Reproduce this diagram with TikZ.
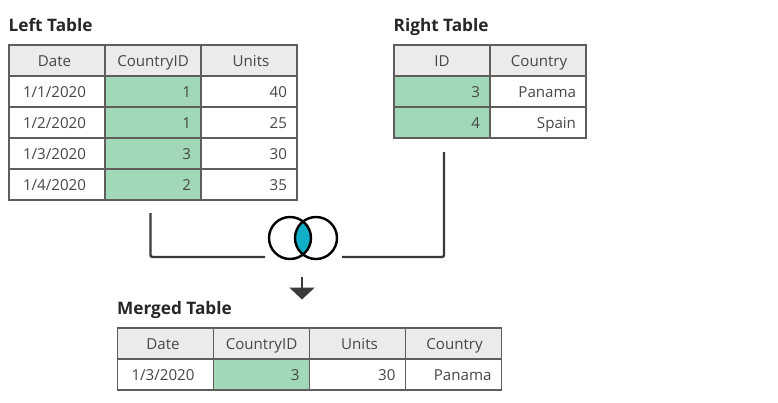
\documentclass[tikz,border=0pt]{standalone}
\usepackage{fontspec}
\setmainfont{Open Sans}
\usetikzlibrary{positioning,arrows.meta}
\definecolor{gridcol}{HTML}{5F5E5C}
\definecolor{headcol}{HTML}{EDEBE9}
\definecolor{keycol}{HTML}{A0D8B8}
\definecolor{textcol}{HTML}{484644}
\definecolor{linecol}{HTML}{3B3A39}
\definecolor{lenscol}{HTML}{0FAFC8}
\begin{document}
\begin{tikzpicture}[x=1pt,y=-1pt,node distance=0pt,
    cell/.style = {draw=gridcol, line width=1.4pt, minimum height=31pt, outer sep=0pt, inner sep=0pt, text=textcol, font=\fontsize{15.1}{17}\selectfont, text height=12pt, text depth=0pt},
    head/.style = {cell, fill=headcol, minimum width=96pt},
    date/.style = {cell, fill=white, minimum width=96pt},
    num/.style = {cell, fill=white, text width=76pt, minimum width=96pt, align=right},
    key/.style = {num, fill=keycol},
    nudge/.style = {execute at begin node={\kern #1}},
    title/.style = {anchor=base west, inner sep=0pt, text=black!85, font=\fontsize{17.2}{19}\selectfont\bfseries},
    link/.style = {draw=linecol, line width=2.4pt, rounded corners=2pt},
    ring/.style = {draw=black, circle, line width=2.4pt, minimum size=42pt, inner sep=0pt}]
        \useasboundingbox (0,0) rectangle (778,402);
        % left table
        \node[title] (lefttitle) at (8.5,31) {Left Table};
        \node[head,nudge=-5pt] (l11) at (57,60.5) {Date};
        \node[head] (l12) [right=of l11] {CountryID};
        \node[head,nudge=4pt] (l13) [right=of l12] {Units};
        \node[date,nudge=-5pt] (l21) [below=of l11] {1/1/2020};
        \node[key] (l22) [right=of l21] {1};
        \node[num] (l23) [right=of l22] {40};
        \node[date,nudge=-5pt] (l31) [below=of l21] {1/2/2020};
        \node[key] (l32) [right=of l31] {1};
        \node[num] (l33) [right=of l32] {25};
        \node[date,nudge=-5pt] (l41) [below=of l31] {1/3/2020};
        \node[key] (l42) [right=of l41] {3};
        \node[num] (l43) [right=of l42] {30};
        \node[date,nudge=-5pt] (l51) [below=of l41] {1/4/2020};
        \node[key] (l52) [right=of l51] {2};
        \node[num] (l53) [right=of l52] {35};
        % right table
        \node[title] (righttitle) at (393.5,31) {Right Table};
        \node[head] (r11) at (442,60.5) {ID};
        \node[head,nudge=2pt] (r12) [right=of r11] {Country};
        \node[key] (r21) [below=of r11] {3};
        \node[num] (r22) [right=of r21] {Panama};
        \node[key] (r31) [below=of r21] {4};
        \node[num] (r32) [right=of r31] {Spain};
        % merged table
        \node[title] (mergedtitle) at (117,314) {Merged Table};
        \node[head,nudge=-5pt] (m11) at (165.5,343.5) {Date};
        \node[head] (m12) [right=of m11] {CountryID};
        \node[head,nudge=4pt] (m13) [right=of m12] {Units};
        \node[head,nudge=2pt] (m14) [right=of m13] {Country};
        \node[date,nudge=-5pt] (m21) [below=of m11] {1/3/2020};
        \node[key] (m22) [right=of m21] {3};
        \node[num] (m23) [right=of m22] {30};
        \node[num] (m24) [right=of m23] {Panama};
        % join symbol
        \begin{scope}
        \clip (290,238) circle (21pt);
        \fill[lenscol] (316,238) circle (21pt);
        \end{scope}
        \node[ring] (joinl) at (290,238) {};
        \node[ring] (joinr) at (316,238) {};
        % connectors
        \coordinate (startl) at (150.5,213);
        \coordinate (cornerl) at (150.5,257);
        \coordinate (endl) at (265,257);
        \coordinate (startr) at (444,152);
        \coordinate (cornerr) at (444,257);
        \coordinate (endr) at (342,257);
        \draw[link] (startl) -- (cornerl) -- (endl);
        \draw[link] (startr) -- (cornerr) -- (endr);
        \coordinate (arrowtop) at (302,277);
        \coordinate (arrowtip) at (302,299.5);
        \draw[draw=linecol, line width=2.4pt, -{Triangle[width=25pt,length=12pt]}] (arrowtop) -- (arrowtip);
\end{tikzpicture}
\end{document}
